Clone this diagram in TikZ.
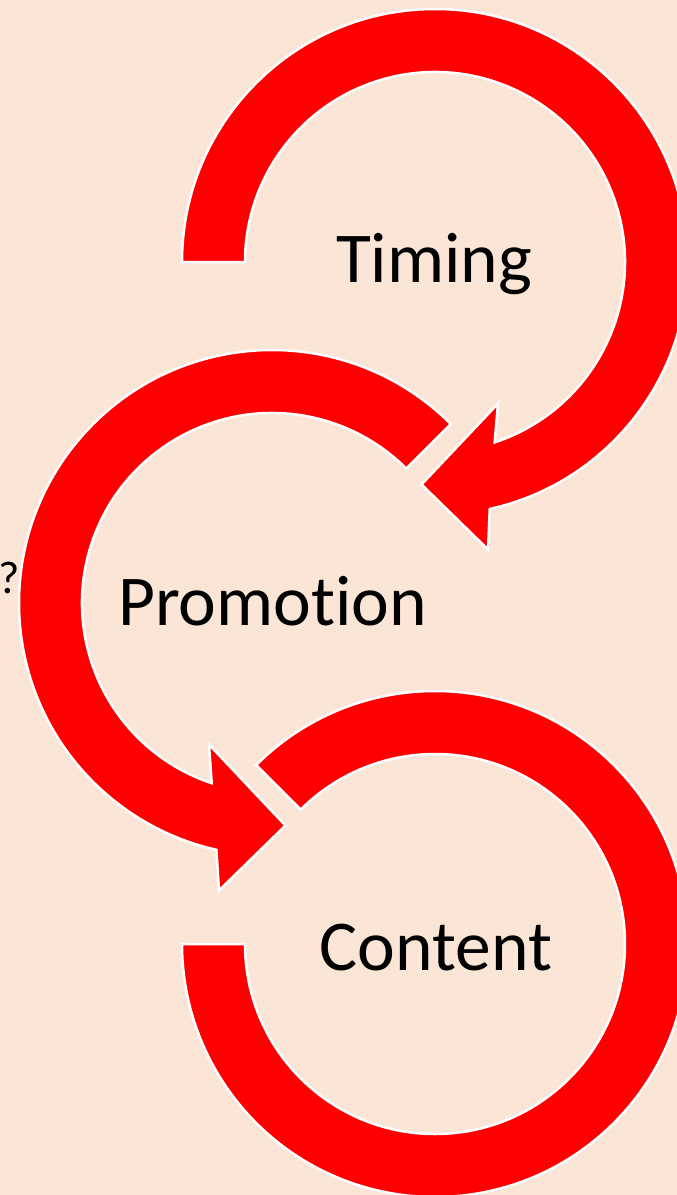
\documentclass[tikz,border=0pt]{standalone}
\usepackage{fontspec}
\setmainfont{Carlito}[Ligatures=NoCommon]
\usetikzlibrary{calc}
\definecolor{bgpeach}{HTML}{FBE5D6}
\definecolor{arrowred}{HTML}{FF0000}
\begin{document}
\begin{tikzpicture}[x=1pt,y=-1pt,
  ringarrow/.style={fill=arrowred,draw=white,line width=2.5pt,line join=miter},
  bigtext/.style={font=\fontsize{71.5}{86}\selectfont,text=black,inner sep=0pt,anchor=base},
  smalltext/.style={font=\fontsize{46}{56}\selectfont,text=black,inner sep=0pt,anchor=base west}]
\useasboundingbox (0,0) rectangle (677,1195);
\clip (0,0) rectangle (677,1195);
\fill[bgpeach] (0,0) rectangle (677,1195);
\coordinate (tc) at (435,262);
\coordinate (pc) at (272,603);
\coordinate (cc) at (435,944);
% Timing arrow
\path[ringarrow] ($(tc)+(180:253)$) arc[start angle=180, end angle=437.5, radius=253]
  -- ($(tc)+(53,287.5)$) -- ($(tc)+(-13.5,222.5)$) -- ($(tc)+(63,141.5)$)
  -- ($(tc)+(431.7:190)$) arc[start angle=431.7, end angle=180, radius=190] -- cycle;
% Promotion arrow
\path[ringarrow] ($(pc)+(-45:253)$) arc[start angle=-45, end angle=-257.3, radius=253]
  -- ($(pc)+(-53,287.5)$) -- ($(pc)+(13.5,222.5)$) -- ($(pc)+(-63,141.5)$)
  -- ($(pc)+(-251.5:190)$) arc[start angle=-251.5, end angle=-45, radius=190] -- cycle;
% Content ring
\path[ringarrow] ($(cc)+(225:253)$) arc[start angle=225, end angle=540, radius=253]
  -- ($(cc)+(540:190)$) arc[start angle=540, end angle=225, radius=190] -- cycle;
\node[bigtext] (timing) at (434,282) {Timing};
\node[bigtext] (promotion) at (272.5,625) {Promotion};
\node[bigtext] (content) at (436,970) {Content};
\node[smalltext] (qmark) at (-2,593) {?};
\end{tikzpicture}
\end{document}
